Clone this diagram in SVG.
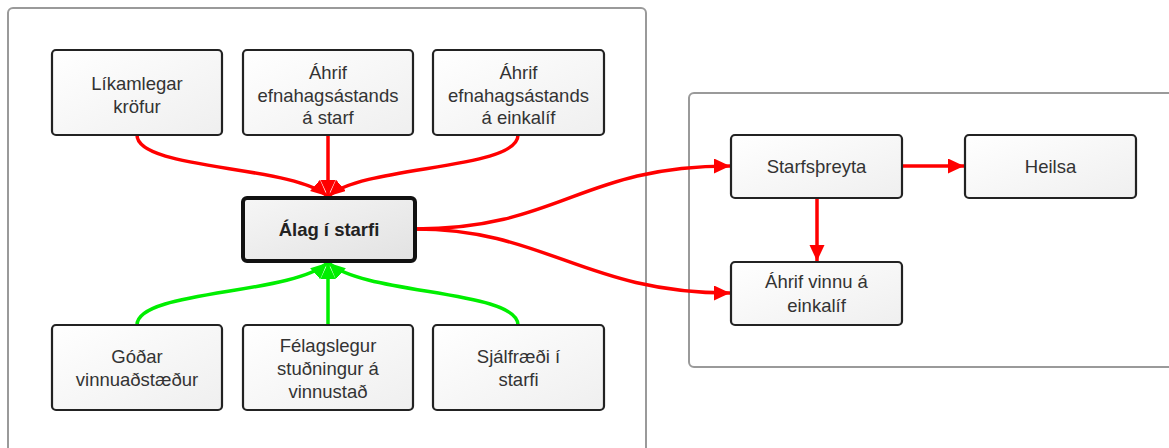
<svg xmlns="http://www.w3.org/2000/svg" width="1169" height="448" viewBox="0 0 1169 448">
<style>
.cont{fill:#fff;stroke:#9a9a9a;stroke-width:2}
.box{fill:url(#g);stroke:#222;stroke-width:2.2}
.main{fill:url(#g2);stroke:#111;stroke-width:4}
text{font-family:"Liberation Sans",Arial,sans-serif;font-size:18.5px;fill:#333;text-anchor:middle}
.b{font-weight:bold;fill:#222}
.r{fill:none;stroke:#ff0000;stroke-width:3.5}
.gr{fill:none;stroke:#00ee00;stroke-width:3.5}
</style>
<defs>
<linearGradient id="g" x1="0" y1="0" x2="1" y2="1"><stop offset="0" stop-color="#ffffff"/><stop offset="1" stop-color="#efefef"/></linearGradient>
<linearGradient id="g2" x1="0" y1="0" x2="1" y2="1"><stop offset="0" stop-color="#f6f6f6"/><stop offset="1" stop-color="#e2e2e2"/></linearGradient>
<marker id="ar" markerUnits="userSpaceOnUse" markerWidth="17" markerHeight="16" refX="16" refY="7.5" orient="auto"><path d="M0,0 L16,7.5 L0,15 z" fill="#ff0000"/></marker>
<marker id="ag" markerUnits="userSpaceOnUse" markerWidth="17" markerHeight="16" refX="16" refY="7.5" orient="auto"><path d="M0,0 L16,7.5 L0,15 z" fill="#00ee00"/></marker>
</defs>
<g id="containers">
<rect class="cont" x="8" y="8" width="638" height="470" rx="5"/>
<rect class="cont" x="689" y="93" width="500" height="274" rx="5"/>
</g>
<g id="connectors">
<path class="r" d="M137,135 C137,170 292,165 327,196" marker-end="url(#ar)"/>
<path class="r" d="M328,135 L328,196" marker-end="url(#ar)"/>
<path class="r" d="M518,135 C518,170 364,165 329,196" marker-end="url(#ar)"/>
<path class="gr" d="M137,325 C137,290 292,295 327,263" marker-end="url(#ag)"/>
<path class="gr" d="M328,325 L328,263" marker-end="url(#ag)"/>
<path class="gr" d="M518,325 C518,290 364,295 329,263" marker-end="url(#ag)"/>
<path class="r" d="M415,229 C560,229 580,166 730,166" marker-end="url(#ar)"/>
<path class="r" d="M415,229 C545,229 585,293 730,293" marker-end="url(#ar)"/>
<path class="r" d="M902,166 L964,166" marker-end="url(#ar)"/>
<path class="r" d="M817,198 L817,261" marker-end="url(#ar)"/>
</g>
<g id="n1"><rect class="box" x="52" y="50" width="170" height="85" rx="4"/><text x="137" y="89.5">Líkamlegar</text><text x="137" y="112.5">kröfur</text></g>
<g id="n2"><rect class="box" x="243" y="50" width="170" height="85" rx="4"/><text x="328" y="78.5">Áhrif</text><text x="328" y="101.5">efnahagsástands</text><text x="328" y="124">á starf</text></g>
<g id="n3"><rect class="box" x="433" y="50" width="171" height="85" rx="4"/><text x="518.5" y="78.5">Áhrif</text><text x="518.5" y="101.5">efnahagsástands</text><text x="518.5" y="124">á einkalíf</text></g>
<g id="main"><rect class="main" x="243" y="198" width="172" height="63" rx="4"/><text class="b" x="329" y="236">Álag í starfi</text></g>
<g id="n4"><rect class="box" x="52" y="325" width="170" height="85" rx="4"/><text x="137" y="363">Góðar</text><text x="137" y="386">vinnuaðstæður</text></g>
<g id="n5"><rect class="box" x="243" y="325" width="170" height="85" rx="4"/><text x="328" y="351.5">Félagslegur</text><text x="328" y="374.5">stuðningur á</text><text x="328" y="398">vinnustað</text></g>
<g id="n6"><rect class="box" x="433" y="325" width="171" height="85" rx="4"/><text x="518.5" y="363">Sjálfræði í</text><text x="518.5" y="386">starfi</text></g>
<g id="n7"><rect class="box" x="731" y="135" width="171" height="63" rx="4"/><text x="816.5" y="173">Starfsþreyta</text></g>
<g id="n8"><rect class="box" x="965" y="135" width="171" height="63" rx="4"/><text x="1050.5" y="173">Heilsa</text></g>
<g id="n9"><rect class="box" x="731" y="262" width="171" height="63" rx="4"/><text x="816.5" y="288">Áhrif vinnu á</text><text x="816.5" y="311.5">einkalíf</text></g>
</svg>
